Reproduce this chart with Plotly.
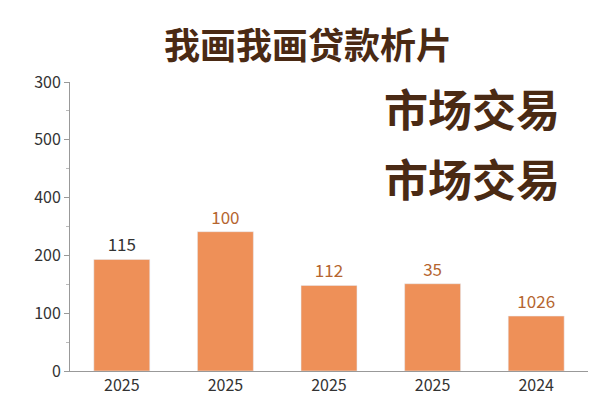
import plotly.graph_objects as go

categories = ["2025", "2025", "2025", "2025", "2024"]
bar_heights = [193, 241, 148, 151, 95]
bar_labels = ["115", "100", "112", "35", "1026"]
label_colors = ["#333333", "#B5652F", "#B5652F", "#B5652F", "#B5652F"]
y_tickvals = [0, 100, 200, 300, 400, 500]
y_ticktext = ["0", "100", "200", "400", "500", "300"]

x = list(range(len(categories)))

L, R, T, B = 62, 20, 74, 32
W, H = 600, 400
pw, ph = W - L - R, H - T - B


def px(xp, yp):
    return (xp - L) / pw, (H - B - yp) / ph


fig = go.Figure(go.Bar(
    x=x, y=bar_heights, width=0.54, marker_color="#EE9058",
    text=bar_labels, textposition="outside",
    textfont=dict(size=17, color=label_colors), cliponaxis=False,
))

tx, ty = px(300, 6)
fig.add_annotation(text="<b>我画我画贷款析片</b>", x=tx, y=ty, xref="paper", yref="paper",
                   xanchor="center", yanchor="top", showarrow=False,
                   font=dict(size=36, color="#4A2A14"))
for yy in [100, 172]:
    ax, ay = px(554, yy)
    fig.add_annotation(text="<b>市场交易</b>", x=ax, y=ay, xref="paper", yref="paper",
                       xanchor="right", yanchor="middle", showarrow=False,
                       font=dict(size=44, color="#4A2A14"))

fig.update_layout(
    width=W, height=H, margin=dict(l=L, r=R, t=T, b=B),
    plot_bgcolor="white", paper_bgcolor="white", showlegend=False,
    font=dict(family="Noto Sans CJK SC", size=16, color="#333333"),
    xaxis=dict(tickvals=x, ticktext=categories, range=[-0.5, 4.5],
               showline=True, linecolor="#999999", ticks="", showgrid=False),
    yaxis=dict(tickvals=y_tickvals, ticktext=y_ticktext, range=[0, 500],
               showline=True, linecolor="#999999", ticks="outside", ticklen=5,
               tickcolor="#999999", showgrid=False, zeroline=False,
               minor=dict(dtick=50, ticks="outside", ticklen=3, tickcolor="#bbbbbb")),
)

fig.write_html("out.html")
